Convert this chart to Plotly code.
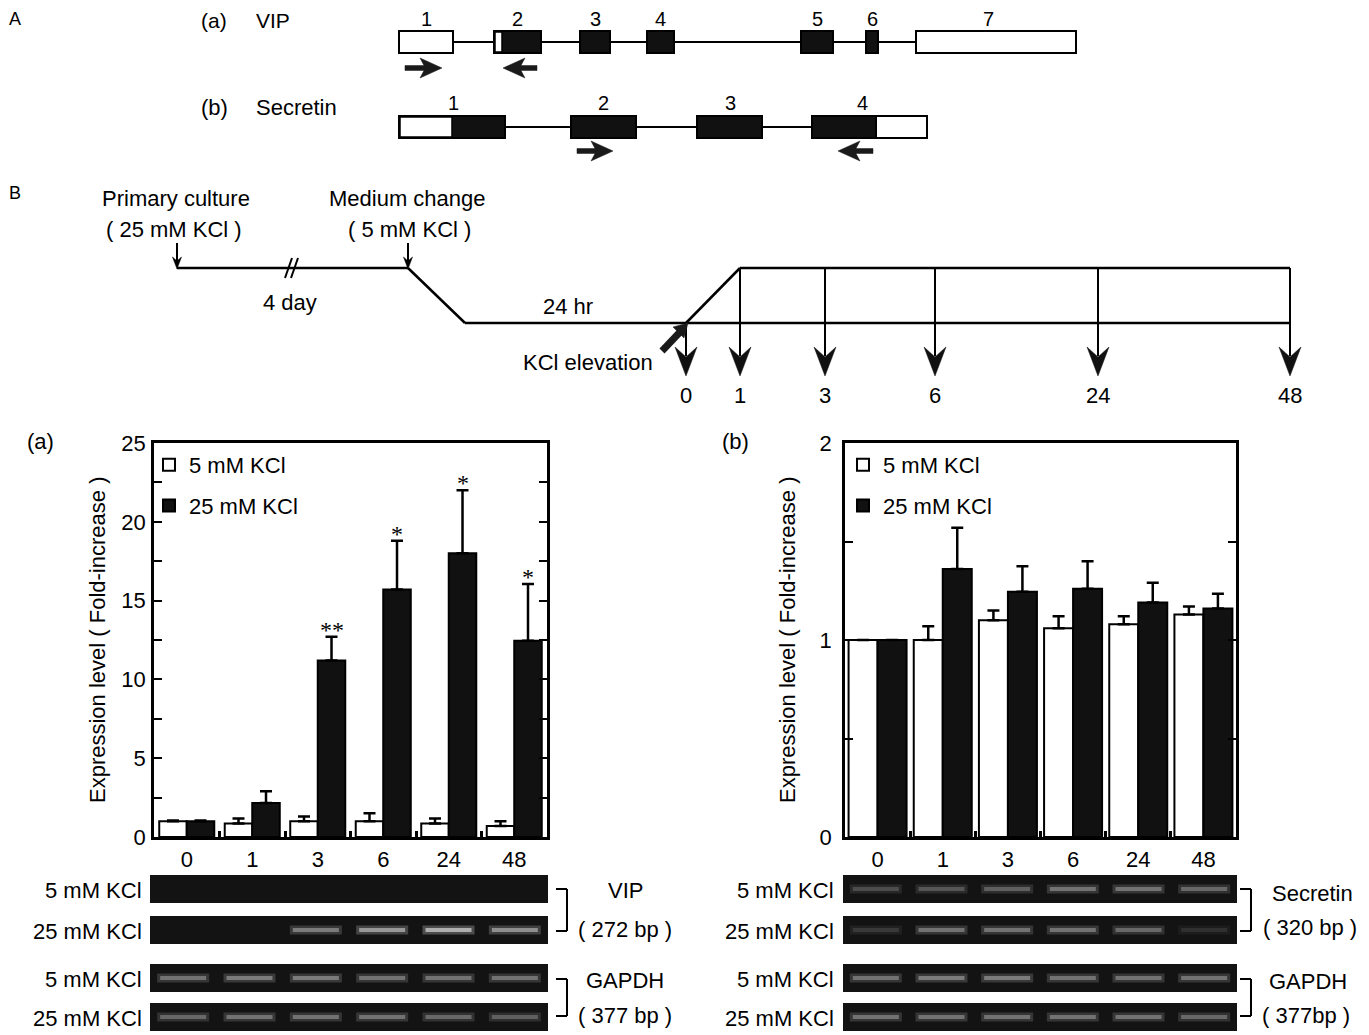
import plotly.graph_objects as go

# ---------------- DATA ----------------
times = ["0", "1", "3", "6", "24", "48"]
series_names = ["5 mM KCl", "25 mM KCl"]

vip_5mM = [1.0, 0.85, 1.0, 1.0, 0.85, 0.7]
vip_5mM_err = [0.05, 0.32, 0.3, 0.5, 0.32, 0.3]
vip_25mM = [1.0, 2.15, 11.2, 15.7, 18.0, 12.45]
vip_25mM_err = [0.05, 0.75, 1.5, 3.1, 4.0, 3.6]
vip_sig = ["", "", "**", "*", "*", "*"]

sec_5mM = [1.0, 1.0, 1.10, 1.06, 1.08, 1.13]
sec_5mM_err = [0.0, 0.07, 0.05, 0.06, 0.04, 0.04]
sec_25mM = [1.0, 1.36, 1.245, 1.26, 1.19, 1.16]
sec_25mM_err = [0.0, 0.21, 0.13, 0.14, 0.10, 0.075]

# gel band brightness (0 = none, 1 = brightest)
gel_vip_5 = [0.0, 0.0, 0.0, 0.0, 0.0, 0.0]
gel_vip_25 = [0.0, 0.0, 0.55, 0.7, 0.82, 0.65]
gel_gapdh_a_5 = [0.5, 0.55, 0.55, 0.5, 0.5, 0.5]
gel_gapdh_a_25 = [0.45, 0.5, 0.5, 0.5, 0.45, 0.4]
gel_sec_5 = [0.3, 0.35, 0.4, 0.5, 0.5, 0.45]
gel_sec_25 = [0.2, 0.5, 0.5, 0.5, 0.45, 0.15]
gel_gapdh_b_5 = [0.5, 0.55, 0.55, 0.5, 0.5, 0.5]
gel_gapdh_b_25 = [0.5, 0.5, 0.5, 0.5, 0.5, 0.45]

vip_exon_labels = ["1", "2", "3", "4", "5", "6", "7"]
sec_exon_labels = ["1", "2", "3", "4"]
timeline_labels = ["0", "1", "3", "6", "24", "48"]

# ---------------- LAYOUT HELPERS ----------------
W, H = 1369, 1035
OFF = 8  # page body margin offset compensation
FONT = "Liberation Sans, Arial, sans-serif"


def X(x):
    return (x - OFF) / W


def Y(y):
    return 1 - (y - OFF) / H


shapes = []
annotations = []


def rect(x0, y0, x1, y1, fill="white", lc="black", lw=2):
    shapes.append(dict(type="rect", xref="paper", yref="paper",
                       x0=X(x0), x1=X(x1), y0=Y(y1), y1=Y(y0),
                       fillcolor=fill, line=dict(color=lc, width=lw)))


def line(x0, y0, x1, y1, w=2, c="black"):
    shapes.append(dict(type="line", xref="paper", yref="paper",
                       x0=X(x0), y0=Y(y0), x1=X(x1), y1=Y(y1),
                       line=dict(color=c, width=w)))


def poly(pts, fill="black"):
    p = "M " + " L ".join(f"{X(a):.5f},{Y(b):.5f}" for a, b in pts) + " Z"
    shapes.append(dict(type="path", xref="paper", yref="paper", path=p,
                       fillcolor=fill, line=dict(color=fill, width=0.5)))


def text(x, y, s, size=22, xa="center", ya="middle", family=FONT, angle=0):
    annotations.append(dict(x=X(x), y=Y(y), xref="paper", yref="paper", text=s,
                            showarrow=False, xanchor=xa, yanchor=ya, textangle=angle,
                            borderpad=0, font=dict(size=size, family=family, color="black")))


# ---------------- PANEL A: gene structures ----------------
text(8, 19, "A", size=18, xa="left")
text(200, 21, "(a)", size=21, xa="left")
text(255, 21, "VIP", size=21, xa="left")
line(399, 42, 1076, 42, w=2)
vip_exons = [(399, 453, "open"), (494, 541, "mixed2"), (580, 610, "fill"), (647, 674, "fill"),
             (801, 833, "fill"), (866, 878, "fill"), (916, 1076, "open")]
for (x0, x1, kind), lab in zip(vip_exons, vip_exon_labels):
    if kind == "open":
        rect(x0, 31, x1, 53, fill="white")
    elif kind == "fill":
        rect(x0, 31, x1, 53, fill="#111111")
    else:
        rect(x0, 31, x1, 53, fill="#111111")
        rect(x0 + 1, 32, x0 + 8, 52, fill="white", lw=1.5)
    text((x0 + x1) / 2 + (-8 if lab == "7" else 0), 19, lab, size=20)


def primer(x_tail, x_tip, y):
    d = 1 if x_tip > x_tail else -1
    base = x_tip - d * 22
    poly([(x_tail, y - 2.5), (base + d * 4, y - 2.5), (base, y - 10), (x_tip, y),
          (base, y + 10), (base + d * 4, y + 2.5), (x_tail, y + 2.5)], fill="#1a1a1a")


primer(405, 442, 68)
primer(537, 503, 68)

text(200, 107, "(b)", xa="left")
text(255, 107, "Secretin", xa="left")
line(399, 127, 927, 127, w=2)
rect(399, 116, 505, 138, fill="#111111")
rect(400, 117, 452, 137, fill="white", lw=1.5)
rect(571, 116, 636, 138, fill="#111111")
rect(697, 116, 762, 138, fill="#111111")
rect(812, 116, 927, 138, fill="white")
rect(812, 116, 876, 138, fill="#111111")
for xc, lab in zip([453, 603, 730, 862], sec_exon_labels):
    text(xc, 103, lab, size=20)
primer(577, 613, 151)
primer(873, 838, 151)

# ---------------- PANEL B: timeline ----------------
text(8, 193, "B", size=18, xa="left")
text(176, 198, "Primary culture")
text(174, 229, "( 25 mM KCl )")
text(408, 198, "Medium change")
text(410, 229, "( 5 mM KCl )")


def small_arrow(x, y0, y1):
    line(x, y0, x, y1 - 6, w=2)
    poly([(x, y1 + 1), (x - 4.5, y1 - 11), (x, y1 - 7), (x + 4.5, y1 - 11)])


small_arrow(177, 243, 268)
small_arrow(408, 243, 268)
line(177, 268, 408, 268, w=2.5)
line(285, 278, 292, 258, w=2)
line(291, 278, 298, 258, w=2)
text(290, 302, "4 day")
line(408, 268, 465, 323, w=2.5)
line(465, 323, 1290, 323, w=2.5)
text(568, 306, "24 hr")
line(686, 323, 740, 268, w=2.5)
line(740, 268, 1290, 268, w=2.5)

tl_x = [686, 740, 825, 935, 1098, 1290]
for i, (xx, lab) in enumerate(zip(tl_x, timeline_labels)):
    ytop = 323 if i == 0 else 268
    line(xx, ytop, xx, 356, w=2)
    poly([(xx, 376), (xx - 11, 347), (xx, 357), (xx + 11, 347)], fill="#111111")
    text(xx, 396, lab)

line(662, 351, 680, 332, w=7, c="#1a1a1a")
poly([(688, 323), (684, 338), (673, 327)], fill="#1a1a1a")
text(588, 363, "KCl elevation")

# ---------------- CHARTS ----------------
A_X = (154, 547)
B_X = (845, 1236)
CH_Y = (443, 837)

fig = go.Figure()
wa = 0.42
wb = 0.445


def err(arr):
    return dict(type="data", array=arr, symmetric=False, arrayminus=[0] * len(arr),
                color="black", thickness=2.5, width=6)


fig.add_trace(go.Bar(x=times, y=vip_5mM, name=series_names[0], width=wa, offset=-wa,
                     marker=dict(color="white", line=dict(color="black", width=2)),
                     error_y=err(vip_5mM_err), xaxis="x", yaxis="y", legend="legend",
                     legendgroup="a1"))
fig.add_trace(go.Bar(x=times, y=vip_25mM, name=series_names[1], width=wa, offset=0,
                     marker=dict(color="#111111", line=dict(color="black", width=2)),
                     error_y=err(vip_25mM_err), xaxis="x", yaxis="y", legend="legend",
                     legendgroup="a2"))
fig.add_trace(go.Bar(x=times, y=sec_5mM, name=series_names[0], width=wb, offset=-wb,
                     marker=dict(color="white", line=dict(color="black", width=2)),
                     error_y=err(sec_5mM_err), xaxis="x2", yaxis="y2", legend="legend2",
                     legendgroup="b1"))
fig.add_trace(go.Bar(x=times, y=sec_25mM, name=series_names[1], width=wb, offset=0,
                     marker=dict(color="#111111", line=dict(color="black", width=2)),
                     error_y=err(sec_25mM_err), xaxis="x2", yaxis="y2", legend="legend2",
                     legendgroup="b2"))

# significance marks (positioned from data, category index on x)
cat_px_a = (A_X[1] - A_X[0]) / len(times)
for i, (v, e, s) in enumerate(zip(vip_25mM, vip_25mM_err, vip_sig)):
    if s:
        annotations.append(dict(x=i, y=v + e, xref="x", yref="y", text=s, showarrow=False,
                                xanchor="center", yanchor="bottom", xshift=wa / 2 * cat_px_a,
                                yshift=-8, font=dict(size=24, family="Liberation Serif, serif",
                                                     color="black")))


def xax(dom):
    return dict(domain=[X(dom[0]), X(dom[1])], type="category", range=[-0.5, 5.5],
                showline=True, linecolor="black", linewidth=2.5, mirror=True,
                ticks="inside", tickson="boundaries", ticklen=6, tickwidth=2.5,
                tickcolor="black", tickfont=dict(size=22, family=FONT, color="black"),
                ticklabelstandoff=1, showgrid=False, zeroline=False, fixedrange=True,
                automargin=False)


def yax(rng, dt, minor_dt, anchor, standoff):
    return dict(domain=[Y(CH_Y[1]), Y(CH_Y[0])], range=rng, anchor=anchor,
                showline=True, linecolor="black", linewidth=2.5, mirror="ticks",
                ticks="inside", ticklen=8, tickwidth=2, tickcolor="black", dtick=dt,
                minor=dict(dtick=minor_dt, ticks="inside", ticklen=8, tickwidth=2,
                           tickcolor="black", showgrid=False),
                tickfont=dict(size=22, family=FONT, color="black"), ticklabelstandoff=standoff,
                showgrid=False, zeroline=False, fixedrange=True, automargin=False)


text(40, 441, "(a)")
text(735, 441, "(b)")
text(97, 640, "Expression level ( Fold-increase )", angle=-90)
text(787, 640, "Expression level ( Fold-increase )", angle=-90)

# ---------------- GELS ----------------
ROWS = [(875, 903), (916, 944), (964, 992), (1003, 1031)]


def gel(x0, x1, row, bands):
    y0, y1 = row
    rect(x0, y0, x1, y1, fill="#131313", lc="#131313", lw=0)
    lane = (x1 - x0) / len(bands)
    yc = (y0 + y1) / 2
    for k, b in enumerate(bands):
        if b <= 0:
            continue
        cx = x0 + lane * (k + 0.5)
        g = int(19 + b * 190)
        g2 = int(19 + b * 70)
        rect(cx - 26, yc - 4.5, cx + 26, yc + 4.5, fill=f"rgb({g2},{g2},{g2})",
             lc=f"rgb({g2},{g2},{g2})", lw=0)
        rect(cx - 23, yc - 2, cx + 23, yc + 2, fill=f"rgb({g},{g},{g})",
             lc=f"rgb({g},{g},{g})", lw=0)


def bracket(x, ya, yb):
    line(x - 11, ya, x, ya, w=2)
    line(x, ya, x, yb, w=2)
    line(x - 11, yb, x, yb, w=2)


ga = (150, 548)
gb = (843, 1237)
for (xx0, xx1), sets, lab_x in [(ga, [gel_vip_5, gel_vip_25, gel_gapdh_a_5, gel_gapdh_a_25], 143),
                                (gb, [gel_sec_5, gel_sec_25, gel_gapdh_b_5, gel_gapdh_b_25], 835)]:
    for row, bands, lab in zip(ROWS, sets, ["5 mM KCl", "25 mM KCl", "5 mM KCl", "25 mM KCl"]):
        gel(xx0, xx1, row, bands)
        text(lab_x, (row[0] + row[1]) / 2 + 1, lab, xa="right")

bracket(567, 889, 931)
bracket(567, 979, 1016)
text(625, 890, "VIP")
text(625, 929, "( 272 bp )")
text(625, 980, "GAPDH")
text(625, 1015, "( 377 bp )")
bracket(1251, 889, 931)
bracket(1251, 979, 1016)
text(1312, 893, "Secretin")
text(1310, 927, "( 320 bp )")
text(1308, 981, "GAPDH")
text(1306, 1015, "( 377bp )")

fig.update_layout(
    width=W, height=H, margin=dict(l=0, r=0, t=0, b=0, autoexpand=False),
    paper_bgcolor="white", plot_bgcolor="white",
    font=dict(family=FONT, size=22, color="black"),
    barmode="group",
    xaxis=xax(A_X), yaxis=yax([0, 25], 5, 2.5, "x", 1),
    xaxis2=xax(B_X), yaxis2=yax([0, 2], 1, 0.5, "x2", 6),
    legend=dict(x=X(149), y=Y(444), xanchor="left", yanchor="top", bgcolor="rgba(0,0,0,0)",
                font=dict(size=22, family=FONT), tracegroupgap=9, itemclick=False),
    legend2=dict(x=X(843), y=Y(444), xanchor="left", yanchor="top", bgcolor="rgba(0,0,0,0)",
                 font=dict(size=22, family=FONT), tracegroupgap=9, itemclick=False),
    shapes=shapes, annotations=annotations, showlegend=True,
)

fig.write_html("out.html")
